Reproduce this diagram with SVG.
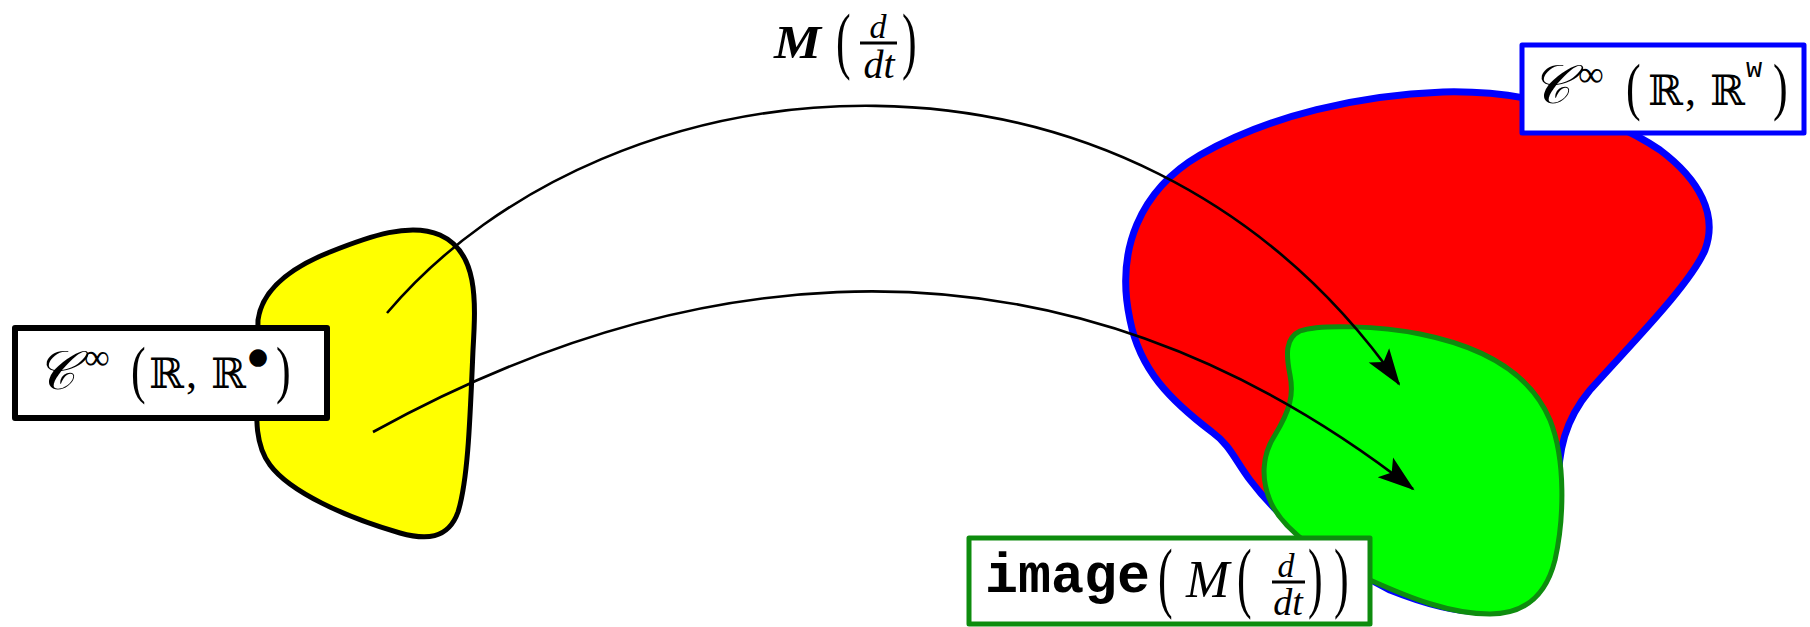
<svg xmlns="http://www.w3.org/2000/svg" width="1810" height="627" viewBox="0 0 1810 627">
<style>
.serif{font-family:"Liberation Serif","DejaVu Serif",serif;fill:#000}
.it{font-style:italic}
.bb{font-family:"DejaVu Serif","Liberation Serif",serif;fill:#000}
.dot{font-family:"DejaVu Sans","Liberation Sans",sans-serif;fill:#000}
.mono{font-family:"Liberation Mono","DejaVu Sans Mono",monospace;fill:#000}
.arc{fill:none;stroke:#000;stroke-width:2.6}
.box{fill:#fff;stroke-linejoin:round}
</style>
<defs>
<marker id="arr" markerUnits="userSpaceOnUse" viewBox="-40 -15 45 30" refX="0" refY="0" markerWidth="45" markerHeight="30" orient="auto" overflow="visible">
<path d="M2,0 L-35,-12.5 L-27,0 L-35,12.5 Z" fill="#000"/>
</marker>
</defs>

<g id="yellow-set">
<path d="M258,320 C262,290 290,268 330,252 C370,236 410,222 440,235 C478,252 476,300 473,350 C470,420 468,480 458,512 C448,540 425,540 400,533 C345,517 290,492 270,465 C255,445 256,420 257,380 Z" fill="#ffff00" stroke="#000" stroke-width="5" stroke-linejoin="round"/>
</g>
<g id="label-source">
<rect class="box" x="15" y="328" width="312" height="90" stroke="#000" stroke-width="6"/>
<text class="serif it" x="36" y="389" font-size="54">𝒞</text>
<text class="serif" x="84" y="369" font-size="36">∞</text>
<text class="serif" font-size="44" transform="translate(131,391) scale(1,1.42)">(</text>
<text class="bb" x="149" y="388" font-size="42">ℝ</text>
<text class="serif" x="186" y="388" font-size="44">,</text>
<text class="bb" x="211" y="388" font-size="42">ℝ</text>
<text class="dot" x="248" y="364" font-size="23">●</text>
<text class="serif" font-size="44" transform="translate(276,391) scale(1,1.42)">)</text>
</g>

<g id="red-set">
<path d="M1443,92 C1520,90 1600,110 1660,150 C1700,180 1718,215 1705,250 C1690,285 1630,345 1590,390 C1565,420 1558,450 1558,490 C1558,540 1550,580 1520,602 C1490,620 1440,610 1390,590 C1330,560 1280,520 1250,480 C1235,460 1230,445 1212,432 C1170,400 1140,370 1130,320 C1115,250 1140,190 1200,155 C1270,115 1360,95 1443,92 Z" fill="#ff0000" stroke="#0000ff" stroke-width="7" stroke-linejoin="round"/>
</g>
<g id="green-set">
<path d="M1300,331 C1320,324 1380,326 1420,334 C1480,346 1530,372 1550,420 C1566,460 1564,520 1555,560 C1545,600 1520,614 1490,614 C1450,614 1410,598 1370,580 C1320,556 1285,530 1272,505 C1260,480 1262,455 1275,435 C1290,410 1294,395 1290,375 C1286,355 1285,338 1300,331 Z" fill="#00ff00" stroke="#0e8c0e" stroke-width="5" stroke-linejoin="round"/>
</g>

<g id="label-target">
<rect class="box" x="1522" y="45" width="282" height="88" stroke="#0000ff" stroke-width="5"/>
<text class="serif it" x="1531" y="103" font-size="54">𝒞</text>
<text class="serif" x="1578" y="86" font-size="36">∞</text>
<text class="serif" font-size="44" transform="translate(1626,108) scale(1,1.42)">(</text>
<text class="bb" x="1648" y="105" font-size="42">ℝ</text>
<text class="serif" x="1685" y="105" font-size="44">,</text>
<text class="bb" x="1710" y="105" font-size="42">ℝ</text>
<text class="mono" x="1746" y="77" font-size="27">w</text>
<text class="serif" font-size="44" transform="translate(1773,108) scale(1,1.42)">)</text>
</g>

<g id="label-image">
<rect class="box" x="969" y="538" width="401" height="86" stroke="#0e8c0e" stroke-width="5"/>
<text class="mono" x="985" y="592" font-size="55" font-weight="bold">image</text>
<text class="serif" font-size="44" transform="translate(1158,603) scale(1,1.8)">(</text>
<text class="serif it" x="1186" y="597" font-size="52">M</text>
<text class="serif" font-size="44" transform="translate(1237,603) scale(1,1.8)">(</text>
<text class="serif it" x="1286" y="577" font-size="34" text-anchor="middle">d</text>
<line x1="1272" y1="582" x2="1305" y2="582" stroke="#000" stroke-width="3"/>
<text class="serif it" x="1288" y="615" font-size="38" text-anchor="middle">dt</text>
<text class="serif" font-size="44" transform="translate(1308,603) scale(1,1.8)">)</text>
<text class="serif" font-size="44" transform="translate(1334,603) scale(1,1.8)">)</text>
</g>

<g id="label-map">
<text class="serif it" x="774" y="58" font-size="46" font-weight="bold" textLength="47" lengthAdjust="spacingAndGlyphs">M</text>
<text class="serif" font-size="44" transform="translate(836,65) scale(1,1.7)">(</text>
<text class="serif it" x="878" y="38" font-size="34" text-anchor="middle">d</text>
<line x1="860" y1="43" x2="897" y2="43" stroke="#000" stroke-width="3"/>
<text class="serif it" x="879" y="78" font-size="40" text-anchor="middle">dt</text>
<text class="serif" font-size="44" transform="translate(902,65) scale(1,1.7)">)</text>
</g>

<g id="connectors">
<path class="arc" d="M387,313 C610,50 1130,0 1399,384" marker-end="url(#arr)"/>
<path class="arc" d="M373,432 C623,294 1014,178 1413,489" marker-end="url(#arr)"/>
</g>
</svg>
